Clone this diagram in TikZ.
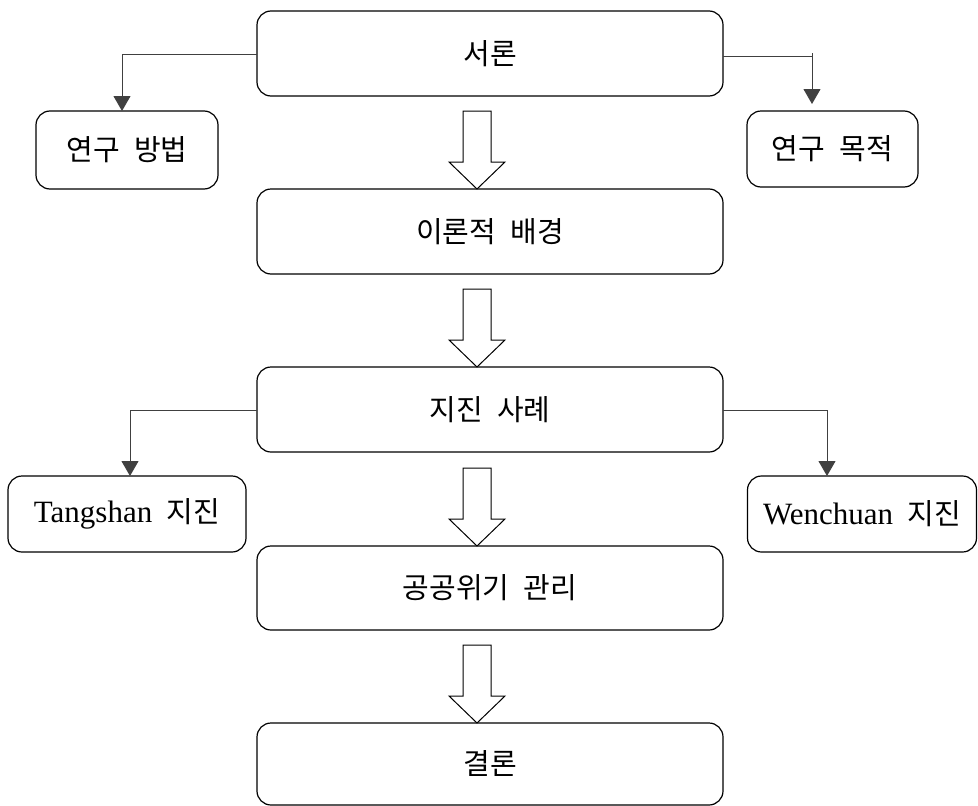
\documentclass[tikz,border=0pt]{standalone}
\usepackage{fontspec}
\setmainfont{Liberation Serif}
\newfontfamily\kr{Noto Sans CJK KR}
\usetikzlibrary{arrows.meta,calc}
\newcommand{\gap}{\hspace{0.5em}}
\tikzset{
  box/.style={draw=black, line width=1.2pt, rounded corners=14pt, fill=white,
    inner sep=0pt, outer sep=0pt, font=\kr\fontsize{29}{32}\selectfont},
  mainbox/.style={box, minimum width=466pt, minimum height=85pt},
  conn/.style={draw=black!75, line width=1pt, -{Triangle[width=17pt,length=15pt]}},
  blockarrow/.style={draw=black, line width=1pt, fill=white, line join=miter}
}
\begin{document}
\begin{tikzpicture}[x=1pt,y=-1pt]
\useasboundingbox (0,0) rectangle (978,806);

\node[mainbox] (intro) at (490,53.5) {서론};
\node[mainbox] (theory) at (490,231.5) {이론적\gap 배경};
\node[mainbox] (cases) at (490,409.5) {지진\gap 사례};
\node[mainbox, minimum height=84pt] (crisis) at (490,588) {공공위기\gap 관리};
\node[mainbox, minimum height=82pt] (concl) at (490,764) {결론};

\node[box, minimum width=182pt, minimum height=78pt] (method) at (127,150) {연구\gap 방법};
\node[box, minimum width=171pt, minimum height=76pt] (purpose) at (832.5,149) {연구\gap 목적};
\node[box, minimum width=238pt, minimum height=76pt] (tang) at (127,514) {{\fontsize{31}{34}\selectfont\rmfamily Tangshan}\gap 지진};
\node[box, minimum width=229pt, minimum height=76pt] (wen) at (862,514) {{\fontsize{31}{34}\selectfont\rmfamily Wenchuan}\gap 지진};

% side connectors
\coordinate (lc) at (122,54);
\coordinate (rc) at (812,56);
\coordinate (rtop) at (812,53);
\coordinate (rend) at (812,104);
\draw[conn] (intro.west |- lc) -- (lc) -- (method.north -| lc);
\draw[draw=black!75, line width=1pt] (intro.east |- rc) -- (rc);
\draw[conn] (rtop) -- (rend);

\coordinate (tl) at (130,410);
\coordinate (tr) at (827,410);
\draw[conn] (cases.west |- tl) -- (tl) -- (tang.north -| tl);
\draw[conn] (cases.east |- tr) -- (tr) -- (wen.north -| tr);

% block arrows
\foreach \a/\b in {intro/theory, theory/cases, cases/crisis, crisis/concl}{
  \draw[blockarrow]
    ($(\b.north)+(-13,0)$) coordinate (tip)
    -- ($(tip)+(28,-27)$) -- ($(tip)+(14,-27)$) -- ($(tip)+(14,-78)$)
    -- ($(tip)+(-14,-78)$) -- ($(tip)+(-14,-27)$) -- ($(tip)+(-28,-27)$) -- cycle;
}
\end{tikzpicture}
\end{document}
